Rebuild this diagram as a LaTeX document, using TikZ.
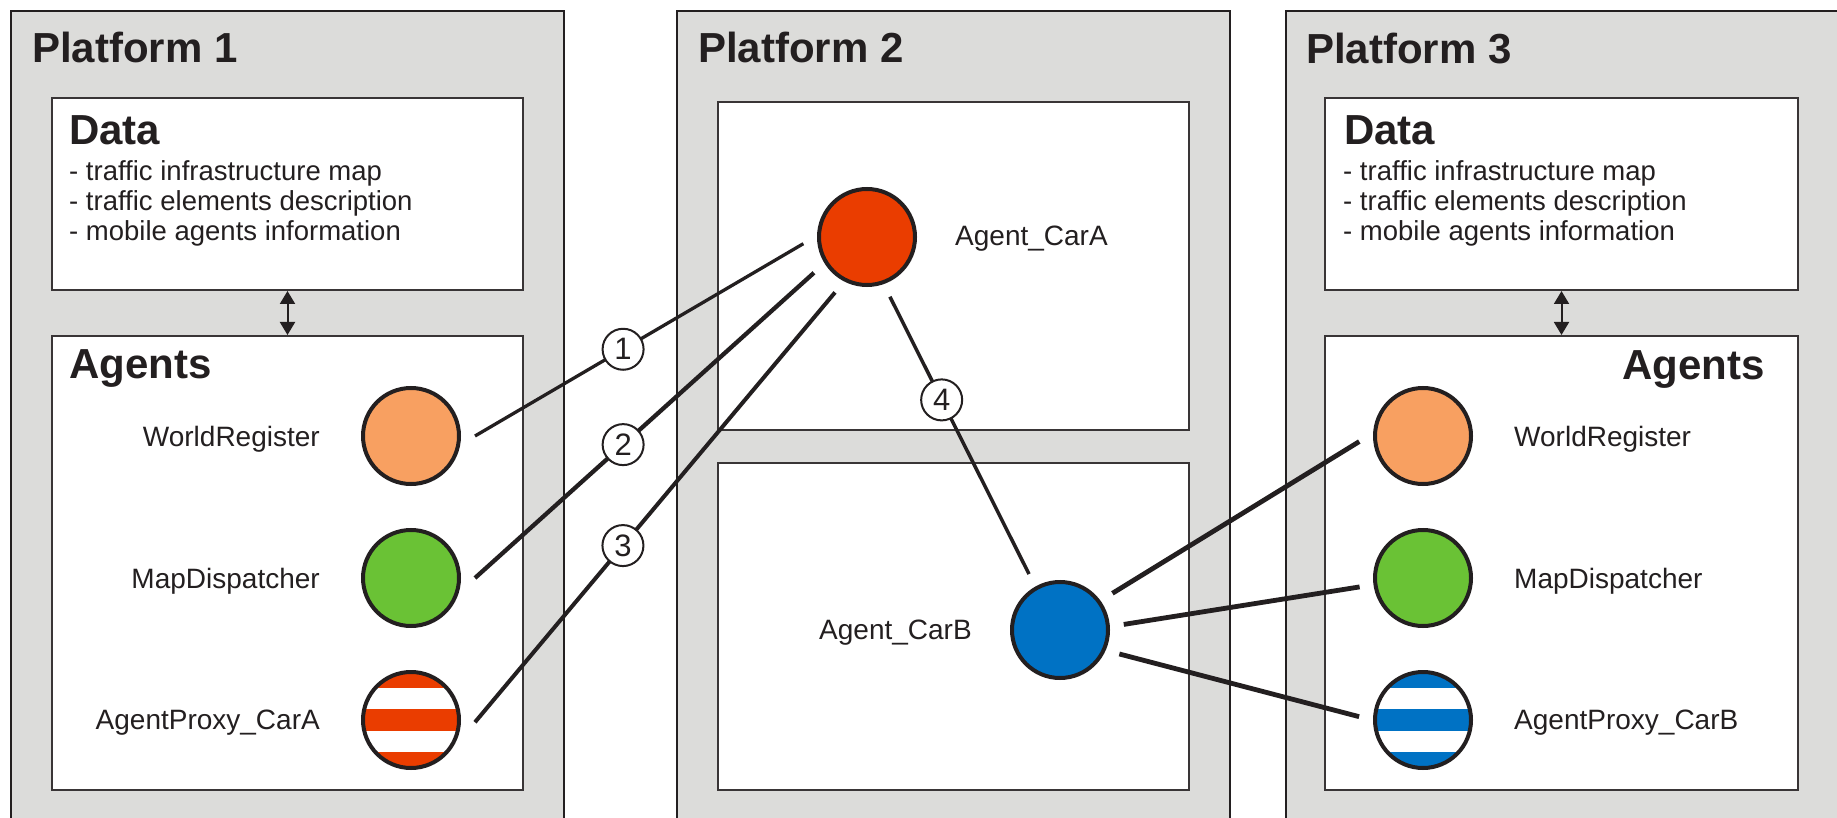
\documentclass[tikz,border=0pt]{standalone}
\usepackage{fontspec}
\setmainfont{Liberation Sans}
\usetikzlibrary{arrows.meta,calc}
\definecolor{platgray}{RGB}{220,220,218}
\definecolor{outl}{RGB}{35,31,32}
\definecolor{agorange}{RGB}{248,160,97}
\definecolor{aggreen}{RGB}{106,194,53}
\definecolor{agred}{RGB}{234,61,0}
\definecolor{agblue}{RGB}{0,114,196}
\begin{document}
\begin{tikzpicture}[x=1pt,y=-1pt,
  platform/.style={draw=outl, line width=2pt, fill=platgray, anchor=north west, inner sep=0pt},
  inbox/.style={draw=outl!90, line width=2pt, fill=white, anchor=north west, inner sep=0pt},
  ptitle/.style={font=\fontsize{42}{42}\selectfont\bfseries, text=outl, anchor=base west, inner sep=0pt},
  btitle/.style={font=\fontsize{42}{42}\selectfont\bfseries, text=outl, inner sep=0pt},
  item/.style={font=\fontsize{27.5}{30}\selectfont, text=outl, anchor=base west, inner sep=0pt},
  lab/.style={font=\fontsize{28}{30}\selectfont, text=outl, inner sep=0pt},
  agent/.style={circle, draw=outl, line width=4pt, minimum size=96pt, inner sep=0pt, outer sep=16pt, fill=#1},
  stripes/.style={path picture={
    \fill[#1] ($(path picture bounding box.center)+(-60,-60)$) rectangle ($(path picture bounding box.center)+(60,-32)$);
    \fill[#1] ($(path picture bounding box.center)+(-60,-11)$) rectangle ($(path picture bounding box.center)+(60,11)$);
    \fill[#1] ($(path picture bounding box.center)+(-60,32)$) rectangle ($(path picture bounding box.center)+(60,60)$);
  }},
  conn/.style={draw=outl, line width=#1},
  num/.style={circle, draw=outl, line width=2pt, fill=white, minimum size=41pt, inner sep=0pt, text=outl, font=\fontsize{31}{31}\selectfont},
  dbl/.style={{Triangle[width=15pt,length=13pt]}-{Triangle[width=15pt,length=13pt]}, line width=2pt, draw=outl}
]
\useasboundingbox (0,0) rectangle (1837,818);
\clip (0,0) rectangle (1837,818);

% Platforms
\node[platform, minimum width=553pt, minimum height=850pt] (p1) at (10,10) {};
\node[platform, minimum width=553pt, minimum height=850pt] (p2) at (676,10) {};
\node[platform, minimum width=552pt, minimum height=850pt] (p3) at (1285,10) {};

\node[ptitle] (t1) at (32,63) {Platform 1};
\node[ptitle] (t2) at (698,63) {Platform 2};
\node[ptitle] (t3) at (1306,64) {Platform 3};

% Platform 1 boxes
\node[inbox, minimum width=471pt, minimum height=192pt] (data1) at (51,97) {};
\node[inbox, minimum width=471pt, minimum height=454pt] (ag1) at (51,335) {};
% Platform 2 boxes
\node[inbox, minimum width=471pt, minimum height=328pt] (up2) at (717,101) {};
\node[inbox, minimum width=471pt, minimum height=327pt] (lo2) at (717,462) {};
% Platform 3 boxes
\node[inbox, minimum width=473pt, minimum height=192pt] (data3) at (1324,97) {};
\node[inbox, minimum width=473pt, minimum height=454pt] (ag3) at (1324,335) {};

\draw[dbl] (data1.south) -- (ag1.north);
\draw[dbl] (data3.south) -- (ag3.north);

% Data texts
\node[btitle, anchor=base west] (dt1) at (69,145) {Data};
\node[item] (d11) at (69,181) {- traffic infrastructure map};
\node[item] (d12) at (69,211) {- traffic elements description};
\node[item] (d13) at (69,241) {- mobile agents information};

\node[btitle, anchor=base west] (dt3) at (1344,145) {Data};
\node[item] (d31) at (1343,181) {- traffic infrastructure map};
\node[item] (d32) at (1343,211) {- traffic elements description};
\node[item] (d33) at (1343,241) {- mobile agents information};

\node[btitle, anchor=base west] (at1) at (69,378) {Agents};
\node[btitle, anchor=base east] (at3) at (1765,379) {Agents};

% Agents platform 1
\node[agent=agorange] (wr1) at (411,436) {};
\node[agent=aggreen] (md1) at (411,578) {};
\node[agent=white, stripes=agred] (ap1) at (411,720) {};
\node[lab, anchor=base east] (lwr1) at (320,446) {WorldRegister};
\node[lab, anchor=base east] (lmd1) at (320,588) {MapDispatcher};
\node[lab, anchor=base east] (lap1) at (320,729) {AgentProxy\_CarA};

% Agents platform 2
\node[agent=agred] (carA) at (867,237) {};
\node[agent=agblue] (carB) at (1060,630) {};
\node[lab, anchor=base west] (lcarA) at (955,246) {Agent\_CarA};
\node[lab, anchor=base west] (lcarB) at (819,639) {Agent\_CarB};

% Agents platform 3
\node[agent=agorange] (wr3) at (1423,436) {};
\node[agent=aggreen] (md3) at (1423,578) {};
\node[agent=white, stripes=agblue] (ap3) at (1423,720) {};
\node[lab, anchor=base west] (lwr3) at (1514,446) {WorldRegister};
\node[lab, anchor=base west] (lmd3) at (1514,588) {MapDispatcher};
\node[lab, anchor=base west] (lap3) at (1514,729) {AgentProxy\_CarB};

% Connectors
\draw[conn=3.3pt] (wr1.0) -- node[num, pos=0.451] (n1) {1} (carA.186);
\draw[conn=4.3pt] (md1.0) -- node[num, pos=0.437] (n2) {2} (carA.214);
\draw[conn=4pt] (ap1.-2) -- node[num, pos=0.411] (n3) {3} (carA.240);
\draw[conn=3.5pt] (carA.-69) -- node[num, pos=0.372] (n4) {4} (carB.119);
\draw[conn=4.8pt] (carB.35) -- (wr3.185);
\draw[conn=4.8pt] (carB.5) -- (md3.188);
\draw[conn=4.8pt] (carB.-22) -- (ap3.177);
\end{tikzpicture}
\end{document}
